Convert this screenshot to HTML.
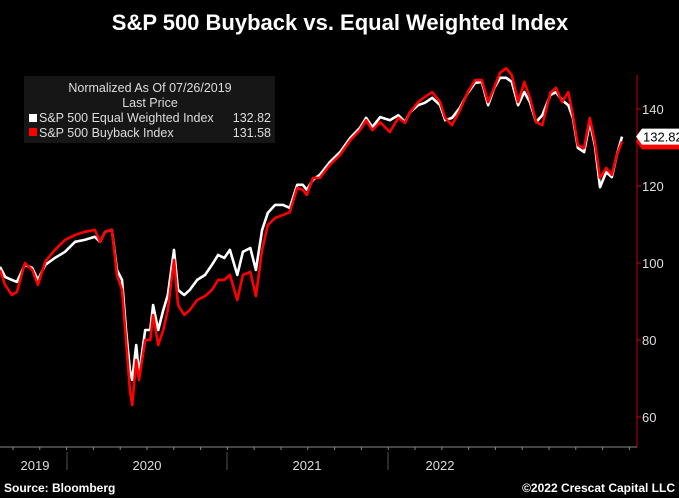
<!DOCTYPE html>
<html><head><meta charset="utf-8">
<style>
body{margin:0;background:#000;width:679px;height:498px;overflow:hidden;font-family:"Liberation Sans",sans-serif}
svg{display:block}
</style></head>
<body>
<svg id="chart" width="679" height="498" viewBox="0 0 679 498">
<rect width="679" height="498" fill="#000"/>
<text x="340" y="30" text-anchor="middle" fill="#fff" font-size="22" font-weight="bold">S&amp;P 500 Buyback vs. Equal Weighted Index</text>
<g id="plot"></g>
<g>
<rect x="24" y="76" width="251" height="67" fill="#161616"/>
<text x="150" y="92" text-anchor="middle" fill="#ddd" font-size="12.5">Normalized As Of 07/26/2019</text>
<text x="150" y="107" text-anchor="middle" fill="#ddd" font-size="12.5">Last Price</text>
<rect x="29" y="114" width="8" height="8" fill="#fff"/>
<text x="39" y="122" fill="#ddd" font-size="12.5">S&amp;P 500 Equal Weighted Index</text>
<text x="271" y="122" text-anchor="end" fill="#ddd" font-size="12.5">132.82</text>
<rect x="29" y="128" width="8" height="8" fill="#f00"/>
<text x="39" y="137" fill="#ddd" font-size="12.5">S&amp;P 500 Buyback Index</text>
<text x="271" y="137" text-anchor="end" fill="#ddd" font-size="12.5">131.58</text>
</g>
<g id="axes"></g>
<text x="4" y="492" fill="#fff" font-size="12" font-weight="bold">Source: Bloomberg</text>
<text x="675" y="492" text-anchor="end" fill="#fff" font-size="12" font-weight="bold">©2022 Crescat Capital LLC</text>
</svg>
<script>
const days=[0,9,21,30,44,57,67,80,97,115,133,150,168,177,186,198,207,216,223,230,234,241,246,257,266,271,280,289,297,308,315,326,336,349,363,375,386,397,407,420,430,443,453,464,474,487,501,513,526,536,543,554,566,584,602,620,637,648,659,673,690,705,717,726,740,752,765,779,788,800,814,828,841,853,864,875,885,896,906,917,928,938,949,960,974,984,995,1006,1014,1023,1034,1044,1053,1062,1073,1083,1092,1101];
const equalWeighted=[99.0,96.4,95.6,95.1,99.5,98.7,95.6,99.5,101.3,102.9,105.5,106.0,106.8,105.5,108.1,108.6,98.2,95.6,82.6,72.2,69.6,78.7,70.9,82.6,82.6,89.1,82.6,87.8,91.7,103.4,93.0,91.7,93.0,95.6,96.9,99.5,102.1,101.3,103.4,96.9,102.9,103.9,98.2,108.6,113.0,115.1,115.1,114.3,120.3,120.3,119.0,121.6,122.9,126.2,128.8,132.5,135.1,137.7,135.3,137.9,137.1,138.4,136.6,139.2,141.0,141.6,142.9,141.0,137.1,137.7,140.3,144.2,146.8,147.0,141.0,145.5,148.1,148.1,147.0,141.0,144.4,141.8,136.6,138.4,143.6,144.4,142.3,141.0,137.7,129.9,128.8,136.6,130.6,119.7,123.6,122.3,128.1,132.82];
const buyback=[98.2,94.3,91.7,92.5,100.0,98.2,94.3,100.3,103.4,106.0,107.3,108.1,108.6,105.5,108.1,108.6,96.9,93.0,80.0,67.0,63.1,74.8,69.6,80.0,80.0,86.5,78.7,82.6,87.8,100.8,89.1,86.5,87.8,90.4,91.4,93.0,95.6,95.6,96.9,90.4,96.9,97.7,91.4,103.4,109.9,111.7,112.5,113.2,119.5,119.0,117.7,122.1,122.1,125.5,128.1,131.9,134.5,137.1,134.5,136.6,134.0,137.7,136.4,139.2,141.8,143.1,144.4,141.8,137.7,135.8,139.7,144.4,147.5,147.5,141.8,145.7,149.4,150.6,148.8,141.8,147.0,142.9,136.6,135.8,144.2,145.5,141.8,144.4,138.4,130.6,129.9,137.7,131.4,122.1,124.7,122.9,128.1,131.58];
const yTicks=[60,80,100,120,140];
const yearLabels=["2019","2020","2021","2022"];

const NS="http://www.w3.org/2000/svg";
const plot=document.getElementById('plot'),axes=document.getElementById('axes');
const xS=d=>d*622/1101;
const yS=v=>263-(v-100)*3.85;
function mk(tag,attrs,parent){const e=document.createElementNS(NS,tag);for(const k in attrs)e.setAttribute(k,attrs[k]);parent.appendChild(e);return e;}
function line(vals,color,name){
  const d=vals.map((v,i)=>(i?'L':'M')+xS(days[i]).toFixed(1)+','+yS(v).toFixed(1)).join('');
  const p=mk('path',{d:d,fill:'none',stroke:color,'stroke-width':2.6,'stroke-linejoin':'round'},plot);
  
  
}
line(equalWeighted,'#fff','equal-weighted-line');
line(buyback,'#f00','buyback-line');

const ax=mk('line',{x1:637,y1:75,x2:637,y2:447,stroke:'#c00','stroke-width':1},axes);


yTicks.forEach(t=>{
  const y=yS(t);
  mk('line',{x1:637,y1:y,x2:641,y2:y,stroke:'#c00'},axes);
  const tx=mk('text',{x:642,y:y+5,fill:'#ddd','font-size':13},axes);
  tx.textContent=t;
  
  
});
function tag(v,bg,fg,name,label){
  const y=yS(v);
  const g=mk('g',{},axes);
  
  
  mk('path',{d:`M636,${y} L642,${y-8} L679,${y-8} L679,${y+8} L642,${y+8} Z`,fill:bg},g);
  if(label){const t=mk('text',{x:643,y:y+5,fill:fg,'font-size':13},g);t.textContent=label;}
}
tag(buyback[buyback.length-1],'#f00','#fff','buyback-last-tag','');
tag(equalWeighted[equalWeighted.length-1],'#fff','#000','equal-last-tag','132.82');

const bx=mk('line',{x1:0,y1:447,x2:637,y2:447,stroke:'#888'},axes);


for(let x=13;x<637;x+=26.8)mk('line',{x1:x,y1:447,x2:x,y2:450,stroke:'#888'},axes);
[67,227,388].forEach(x=>mk('line',{x1:x,y1:452,x2:x,y2:470,stroke:'#555'},axes));
const lx=[35,147,307,440];
yearLabels.forEach((l,i)=>{
  const t=mk('text',{x:lx[i],y:470,'text-anchor':'middle',fill:'#ddd','font-size':13},axes);
  t.textContent=l;
  
  
});
</script>
</body></html>
